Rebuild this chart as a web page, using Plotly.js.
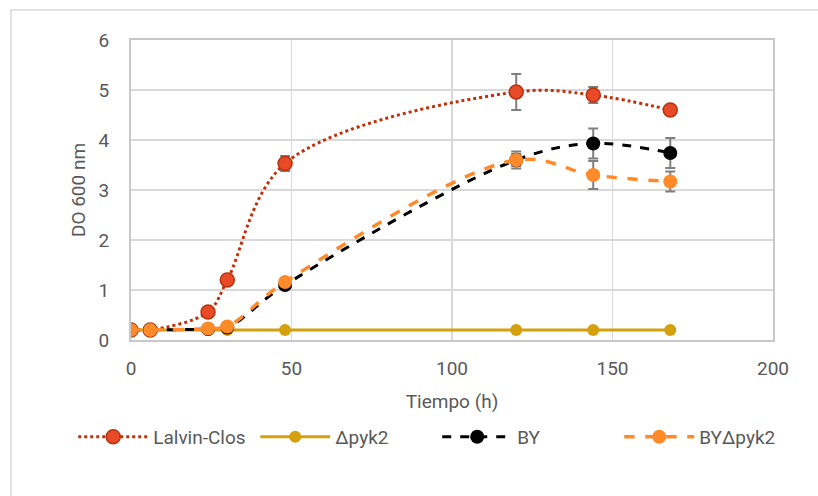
<!DOCTYPE html>
<html>
<head>
<meta charset="utf-8">
<script src="https://cdn.plot.ly/plotly-3.0.1.min.js"></script>
<style>html,body{margin:0;padding:0;background:#fff;}#chart{width:818px;height:496px;}</style>
</head>
<body>
<div id="chart"></div>
<script>
const time = [0, 6, 24, 30, 48, 120, 144, 168];
const seriesNames = ["Lalvin-Clos", "Δpyk2", "BY", "BYΔpyk2"];
const lalvinClos = [0.2, 0.2, 0.56, 1.2, 3.53, 4.96, 4.9, 4.6];
const lalvinErr = [0.02, 0.02, 0.04, 0.05, 0.15, 0.36, 0.16, 0.05];
const dpyk2 = [0.2, 0.2, 0.2, 0.2, 0.2, 0.2, 0.2, 0.2];
const dpyk2Err = [0, 0, 0, 0, 0, 0, 0, 0];
const by = [0.2, 0.2, 0.22, 0.25, 1.1, 3.6, 3.93, 3.74];
const byErr = [0.02, 0.02, 0.02, 0.03, 0.05, 0.12, 0.3, 0.3];
const byDpyk2 = [0.2, 0.2, 0.23, 0.27, 1.16, 3.6, 3.3, 3.17];
const byDpyk2Err = [0.02, 0.02, 0.02, 0.03, 0.05, 0.17, 0.28, 0.2];

function errBar(arr) {
  return {type: 'data', array: arr, visible: true, color: '#7f7f7f', thickness: 2, width: 5};
}

const traces = [
  {x: time, y: lalvinClos, name: seriesNames[0], mode: 'lines+markers',
   line: {color: '#C0300A', width: 3, dash: 'dot', shape: 'spline', smoothing: 1},
   marker: {color: '#E84A27', size: 14, line: {color: '#B5330F', width: 1.5}},
   error_y: errBar(lalvinErr)},
  {x: time, y: dpyk2, name: seriesNames[1], mode: 'lines+markers',
   line: {color: '#D4A00E', width: 3, shape: 'spline'},
   marker: {color: '#D4A00E', size: 12},
   error_y: errBar(dpyk2Err)},
  {x: time, y: by, name: seriesNames[2], mode: 'lines+markers',
   line: {color: '#000000', width: 3, dash: 'dash', shape: 'spline', smoothing: 1},
   marker: {color: '#000000', size: 14},
   error_y: errBar(byErr)},
  {x: time, y: byDpyk2, name: seriesNames[3], mode: 'lines+markers',
   line: {color: '#FF8A2A', width: 3.5, dash: 'dash', shape: 'spline', smoothing: 1},
   marker: {color: '#FF8A2A', size: 14},
   error_y: errBar(byDpyk2Err)}
];

const axisFont = {family: 'Roboto, Arial, sans-serif', size: 19, color: '#595959'};

const layout = {
  width: 818, height: 496,
  margin: {l: 131, r: 45, t: 40, b: 156},
  paper_bgcolor: '#ffffff', plot_bgcolor: '#ffffff',
  font: axisFont,
  showlegend: true,
  xaxis: {
    range: [0, 200], tickvals: [0, 50, 100, 150, 200], ticktext: ['0', '50', '100', '150', '200'],
    showgrid: true, gridcolor: '#d9d9d9', gridwidth: 1.5,
    showline: true, linecolor: '#c8c8c8', linewidth: 2, mirror: true,
    zeroline: false, ticks: '', ticklen: 0, ticklabelstandoff: 10,
    tickfont: axisFont,
    title: {text: 'Tiempo (h)', font: axisFont, standoff: 16}
  },
  yaxis: {
    range: [0, 6], tickvals: [0, 1, 2, 3, 4, 5, 6],
    showgrid: true, gridcolor: '#d9d9d9', gridwidth: 1.5,
    showline: true, linecolor: '#c8c8c8', linewidth: 2, mirror: true,
    zeroline: false, ticks: '', ticklen: 0, ticklabelstandoff: 16,
    tickfont: axisFont,
    title: {text: 'DO 600 nm', font: axisFont, standoff: 8}
  },
  legend: {
    orientation: 'h', x: -0.09, xanchor: 'left', y: -0.323, yanchor: 'middle',
    font: axisFont, itemwidth: 70, entrywidth: 97, bgcolor: 'rgba(0,0,0,0)'
  },
  shapes: [
    {type: 'rect', xref: 'paper', yref: 'paper', x0: -0.187, x1: 1.3, y0: -0.7, y1: 1.1,
     line: {color: '#d9d9d9', width: 1.5}, fillcolor: 'rgba(0,0,0,0)', layer: 'below'}
  ]
};

Plotly.newPlot('chart', traces, layout, {displayModeBar: false, staticPlot: true});
</script>
</body>
</html>
